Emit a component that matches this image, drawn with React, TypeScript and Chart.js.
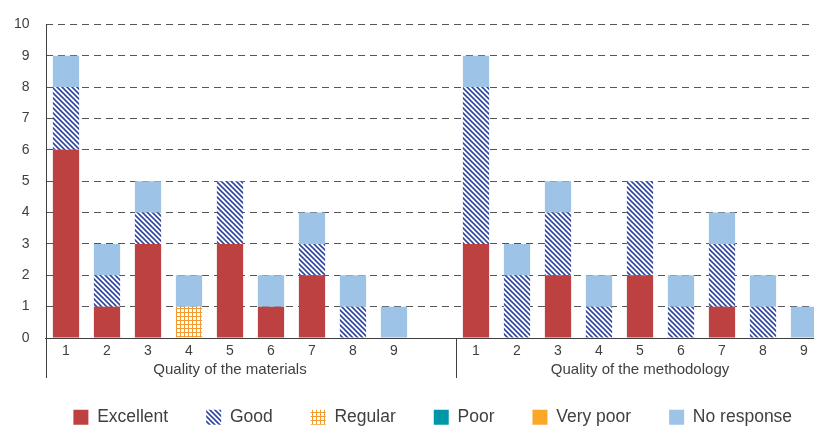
import React, { useEffect, useRef } from 'react';
import { Chart, registerables } from 'chart.js';

Chart.register(...registerables);

// ---- data ----
const categories = ['1', '2', '3', '4', '5', '6', '7', '8', '9', '', '1', '2', '3', '4', '5', '6', '7', '8', '9', ''];
const groupLabels = ['Quality of the materials', 'Quality of the methodology'];
const groupSize = 10;
const seriesNames = ['Excellent', 'Good', 'Regular', 'Poor', 'Very poor', 'No response'];
const excellent = [6, 1, 3, 0, 3, 1, 2, 0, 0, null, 3, 0, 2, 0, 2, 0, 1, 0, 0, null];
const good = [2, 1, 1, 0, 2, 0, 1, 1, 0, null, 5, 2, 2, 1, 3, 1, 2, 1, 0, null];
const regular = [0, 0, 0, 1, 0, 0, 0, 0, 0, null, 0, 0, 0, 0, 0, 0, 0, 0, 0, null];
const poor = [0, 0, 0, 0, 0, 0, 0, 0, 0, null, 0, 0, 0, 0, 0, 0, 0, 0, 0, null];
const veryPoor = [0, 0, 0, 0, 0, 0, 0, 0, 0, null, 0, 0, 0, 0, 0, 0, 0, 0, 0, null];
const noResponse = [1, 1, 1, 1, 0, 1, 1, 1, 1, null, 1, 1, 1, 1, 0, 1, 1, 1, 1, null];
const yMin = 0;
const yMax = 10;
const yStep = 1;

const FONT = "'Liberation Sans', Arial, sans-serif";
const TEXT = '#404040';

function makeHatch(color: string) {
  const s = 5;
  const c = document.createElement('canvas');
  c.width = s;
  c.height = s;
  const g = c.getContext('2d')!;
  g.fillStyle = '#ffffff';
  g.fillRect(0, 0, s, s);
  g.strokeStyle = color;
  g.lineWidth = 1.6;
  g.beginPath();
  g.moveTo(0, 0);
  g.lineTo(s, s);
  g.moveTo(-1, s - 1);
  g.lineTo(1, s + 1);
  g.moveTo(s - 1, -1);
  g.lineTo(s + 1, 1);
  g.stroke();
  return g.createPattern(c, 'repeat')!;
}

function makeGrid(color: string) {
  const s = 4;
  const c = document.createElement('canvas');
  c.width = s;
  c.height = s;
  const g = c.getContext('2d')!;
  g.fillStyle = '#ffffff';
  g.fillRect(0, 0, s, s);
  g.fillStyle = color;
  g.fillRect(0, 0, s, 1);
  g.fillRect(0, 0, 1, s);
  return g.createPattern(c, 'repeat')!;
}

const groupPlugin = {
  id: 'groupAxis',
  afterDraw(chart: any) {
    const { ctx, chartArea } = chart;
    const x = chart.scales.x;
    const half = (x.getPixelForValue(1) - x.getPixelForValue(0)) / 2;
    ctx.save();
    ctx.setLineDash([]);
    ctx.strokeStyle = TEXT;
    ctx.lineWidth = 1;
    const lx = Math.round(chartArea.left) + 0.5;
    ctx.beginPath();
    ctx.moveTo(lx, chartArea.top);
    ctx.lineTo(lx, chartArea.bottom + 40);
    ctx.stroke();
    const nGroups = Math.ceil(categories.length / groupSize);
    for (let gi = 0; gi < nGroups; gi++) {
      const start = gi * groupSize;
      const end = Math.min(categories.length, start + groupSize) - 1;
      if (gi > 0) {
        const px = Math.round(x.getPixelForValue(start) - half) + 0.5;
        ctx.beginPath();
        ctx.moveTo(px, chartArea.bottom);
        ctx.lineTo(px, chartArea.bottom + 40);
        ctx.stroke();
      }
      const labeled: number[] = [];
      for (let i = start; i <= end; i++) if (categories[i] !== '') labeled.push(i);
      const cx = (x.getPixelForValue(labeled[0]) + x.getPixelForValue(labeled[labeled.length - 1])) / 2;
      ctx.fillStyle = TEXT;
      ctx.font = `15px ${FONT}`;
      ctx.textAlign = 'center';
      ctx.textBaseline = 'alphabetic';
      ctx.fillText(groupLabels[gi], cx, chartArea.bottom + 36);
    }
    ctx.restore();
  },
};

export default function App() {
  const ref = useRef<HTMLCanvasElement>(null);
  useEffect(() => {
    if (!ref.current) return;
    const colors = [
      '#BE4141',
      makeHatch('#2F46A0'),
      makeGrid('#F39A30'),
      '#0097A9',
      '#F9A828',
      '#9DC3E6',
    ];
    const values = [excellent, good, regular, poor, veryPoor, noResponse];
    const chart = new Chart(ref.current, {
      type: 'bar',
      data: {
        labels: categories,
        datasets: seriesNames.map((name, i) => ({
          label: name,
          data: values[i],
          backgroundColor: colors[i] as any,
          borderWidth: 0,
          categoryPercentage: 1,
          barPercentage: 0.64,
        })),
      },
      options: {
        responsive: false,
        animation: false,
        events: [],
        layout: { padding: { left: 0, top: 20, right: 0.5, bottom: 0 } },
        plugins: {
          tooltip: { enabled: false },
          legend: {
            position: 'bottom',
            labels: {
              boxWidth: 15,
              boxHeight: 15,
              padding: 38,
              color: TEXT,
              font: { size: 17.5, family: FONT },
            },
          },
        },
        scales: {
          x: {
            stacked: true,
            grid: { display: false, drawTicks: false },
            border: { display: true, color: TEXT, width: 1 },
            ticks: {
              color: TEXT,
              font: { size: 14, family: FONT },
              padding: 5,
              autoSkip: false,
              maxRotation: 0,
            },
            afterFit: (s: any) => {
              s.height = 32.5;
            },
          },
          y: {
            stacked: true,
            min: yMin,
            max: yMax,
            grid: { color: '#555555', lineWidth: 1, drawTicks: false },
            border: { display: false, dash: [7, 5] },
            ticks: {
              stepSize: yStep,
              color: TEXT,
              font: { size: 14, family: FONT },
              padding: 16,
            },
            afterFit: (s: any) => {
              s.width = 45.5;
            },
          },
        },
      },
      plugins: [groupPlugin],
    });
    return () => chart.destroy();
  }, []);
  return (
    <div style={{ position: 'fixed', left: 0, top: 0, width: 814, height: 426, overflow: 'hidden', background: '#fff' }}>
      <canvas ref={ref} width={866} height={436} style={{ display: 'block', width: 866, height: 436 }} />
    </div>
  );
}
